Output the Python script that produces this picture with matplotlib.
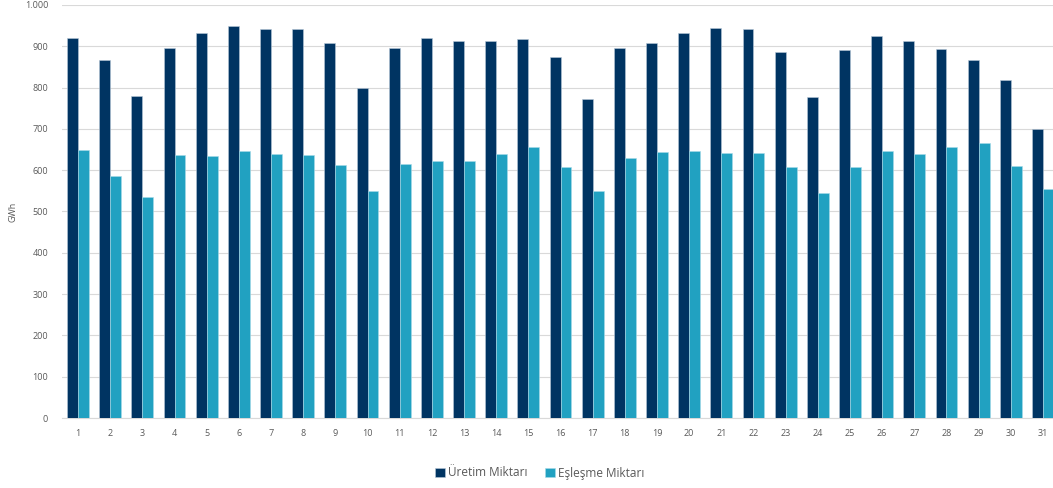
import numpy as np
import matplotlib.pyplot as plt
from matplotlib.ticker import FuncFormatter

plt.rcParams['font.family'] = ['Open Sans', 'DejaVu Sans']

days = list(range(1, 32))
uretim = [920, 866, 779, 895, 931, 948, 943, 943, 909, 799,
          896, 921, 914, 913, 917, 873, 773, 896, 909, 931,
          945, 943, 886, 777, 892, 925, 914, 893, 866, 818, 700]
eslesme = [648, 587, 536, 638, 634, 646, 639, 638, 613, 549,
           615, 623, 622, 640, 655, 607, 549, 629, 643, 646,
           641, 642, 607, 546, 607, 647, 640, 655, 667, 609, 555]

dark = '#003462'
light = '#21a1c1'

fig = plt.figure(figsize=(10.53, 4.88), dpi=100)
ax = fig.add_axes([62 / 1053, 1 - 418 / 488, (1059 - 62) / 1053, (418 - 5) / 488])

x = np.array(days)
w = 0.34
ax.bar(x - w / 2, uretim, w, color=dark, edgecolor='#b8c8d8', linewidth=0.4, label='Üretim Miktarı', zorder=3)
ax.bar(x + w / 2, eslesme, w, color=light, edgecolor='#a8dbe8', linewidth=0.4, label='Eşleşme Miktarı', zorder=3)

ax.set_xlim(0.5, 31.5)
ax.set_ylim(0, 1000)
ax.set_yticks(range(0, 1001, 100))
ax.yaxis.set_major_formatter(FuncFormatter(lambda v, p: f'{int(v):,}'.replace(',', '.')))
ax.set_xticks(x)
ax.set_xticklabels([str(d) for d in days])
ax.grid(axis='y', color='#d9d9d9', linewidth=0.8, zorder=0)
for s in ['left', 'right', 'top']:
    ax.spines[s].set_visible(False)
ax.spines['bottom'].set_color('#d9d9d9')
ax.tick_params(axis='both', length=0, labelsize=6.5, colors='#595959')
ax.tick_params(axis='x', pad=8)
ax.tick_params(axis='y', pad=10)
ax.set_ylabel('GWh', fontsize=6.5, color='#595959', labelpad=5)

fig.legend(loc='center', bbox_to_anchor=(540 / 1053, 1 - 473 / 488), ncol=2, frameon=False,
           fontsize=8.5, labelcolor='#595959', handlelength=0.8, handleheight=0.8,
           handletextpad=0.3, columnspacing=1.5)

fig.savefig('out.png', dpi=100)
